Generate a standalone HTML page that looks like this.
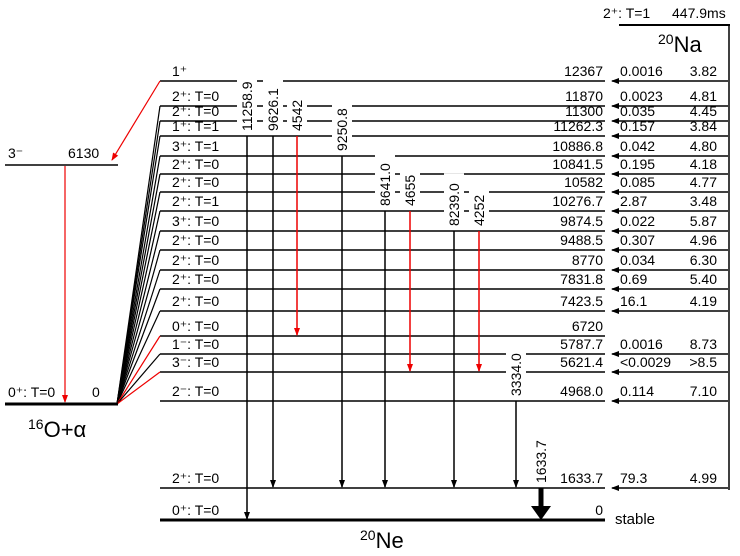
<!DOCTYPE html>
<html><head><meta charset="utf-8"><style>
html,body{margin:0;padding:0;background:#fff}
svg{display:block;font-family:"Liberation Sans",sans-serif}
</style></head><body>
<svg id="c" width="740" height="556" viewBox="0 0 740 556">
<defs>
<marker id="ak" markerWidth="8" markerHeight="8" refX="7" refY="4" orient="auto" markerUnits="userSpaceOnUse"><path d="M0,1 L8,4 L0,7 Z" fill="#000"/></marker>
<marker id="ar" markerWidth="8" markerHeight="8" refX="7" refY="4" orient="auto" markerUnits="userSpaceOnUse"><path d="M0,1 L8,4 L0,7 Z" fill="#e00"/></marker>
</defs>
</svg>
<script>
const energies=["12367","11870","11300","11262.3","10886.8","10841.5","10582","10276.7","9874.5","9488.5","8770","7831.8","7423.5","6720","5787.7","5621.4","4968.0","1633.7","0"];
const spins=["1+","2+: T=0","2+: T=0","1+: T=1","3+: T=1","2+: T=0","2+: T=0","2+: T=1","3+: T=0","2+: T=0","2+: T=0","2+: T=0","2+: T=0","0+: T=0","1-: T=0","3-: T=0","2-: T=0","2+: T=0","0+: T=0"];
const branching=["0.0016","0.0023","0.035","0.157","0.042","0.195","0.085","2.87","0.022","0.307","0.034","0.69","16.1","","0.0016","<0.0029","0.114","79.3",""];
const logft=["3.82","4.81","4.45","3.84","4.80","4.18","4.77","3.48","5.87","4.96","6.30","5.40","4.19","","8.73",">8.5","7.10","4.99",""];
const fanColor=["r","k","k","k","k","k","k","k","k","k","k","k","k","r","k","r","","",""];
// gamma transitions: label, from level index, to level index, color
const gLabels=["11258.9","9626.1","4542","9250.8","8641.0","4655","8239.0","4252","3334.0","1633.7"];
const gFrom=[3,3,3,4,7,7,8,8,16,17];
const gTo=[18,17,13,17,17,15,17,15,17,18];
const gRed=[0,0,1,0,0,1,0,1,0,0];
// layout (pixel positions per level, non-linear)
const Y=[81,106,121,136,156,174,192,211,231,250,270,289,311,336,354,372,401,488,520];
const GX=[247,273,297,342,385,410,454,479,516,541];
const NS="http://www.w3.org/2000/svg";
const svg=document.getElementById('c');
function el(t,a,p){const e=document.createElementNS(NS,t);for(const k in a)e.setAttribute(k,a[k]);(p||svg).appendChild(e);return e;}
function txt(x,y,s,size,anchor,extra){const e=el('text',Object.assign({x:x,y:y,'font-size':size||14,'text-anchor':anchor||'start',fill:'#000'},extra||{}));e.textContent=s;return e;}
function sup(s){return s.replace('+','⁺').replace('-','⁻');}
for(let i=0;i<energies.length;i++){
  const y=Y[i];
  const ln=el('line',{x1:160,y1:y,x2:605,y2:y,stroke:'#000','stroke-width':i==18?3:1.5});
  
  
  const sp=txt(172,y-5,sup(spins[i]),14);
  
  
  const en=txt(603,y-5,energies[i],14,'end');
  
  
  if(branching[i]!==""){
    const ar=el('line',{x1:728,y1:y,x2:612,y2:y,stroke:'#000','stroke-width':1.5,'marker-end':'url(#ak)'});
    
    
    const b=txt(620,y-5,branching[i],14);
    
    
    const l=txt(717,y-5,logft[i],14,'end');
    
    
  }
  if(fanColor[i]!==""){
    const f=el('line',{x1:117,y1:404,x2:160,y2:y,stroke:fanColor[i]=='r'?'#e00':'#000','stroke-width':1.2});
    if(i==0){f.setAttribute('x1',160);f.setAttribute('y1',y);f.setAttribute('x2',112);f.setAttribute('y2',160);f.setAttribute('marker-end','url(#ar)');}
    
    
  }
}
for(let j=0;j<gLabels.length;j++){
  const x=GX[j],y1=Y[gFrom[j]],y2=Y[gTo[j]];
  const thick=j==9;
  const g=el('line',{x1:x,y1:y1,x2:x,y2:thick?y2-12:y2-1,stroke:gRed[j]?'#e00':'#000','stroke-width':thick?5:1.5,'marker-end':thick?'':(gRed[j]?'url(#ar)':'url(#ak)')});
  if(thick){el('path',{d:`M${x-10},${y2-14} L${x+10},${y2-14} L${x},${y2} Z`,fill:'#000'});}
  
  
  const ty=y1-5;
  const w=gLabels[j].length*7.8+6;
  el('rect',{x:x-10,y:ty-w,width:20,height:w,fill:'#fff'});
  const t=txt(x+5,ty,gLabels[j],14,'start',{transform:`rotate(-90 ${x+5} ${ty})`});
  
  
}
el('line',{x1:5,y1:165,x2:118,y2:165,stroke:'#000','stroke-width':1.5});
txt(8,158,'3⁻',14);txt(68,158,'6130',14);
el('line',{x1:65,y1:166,x2:65,y2:402,stroke:'#e00','stroke-width':1.2,'marker-end':'url(#ar)'});
const o=el('line',{x1:5,y1:404,x2:118,y2:404,stroke:'#000','stroke-width':3});


txt(8,397,'0⁺: T=0',14);txt(92,397,'0',14);
const ol=el('text',{x:28,y:437,'font-size':22});ol.innerHTML='<tspan font-size="14" dy="-8">16</tspan><tspan dy="8">O+α</tspan>';


el('line',{x1:619,y1:25,x2:730,y2:25,stroke:'#000','stroke-width':2});
el('line',{x1:729,y1:25,x2:729,y2:490,stroke:'#000','stroke-width':1.5});
txt(603,18,'2⁺: T=1',14);txt(672,18,'447.9ms',14);
const na=el('text',{x:658,y:52,'font-size':22});na.innerHTML='<tspan font-size="14" dy="-8">20</tspan><tspan dy="8">Na</tspan>';


txt(615,524,'stable',15);
const ne=el('text',{x:360,y:548,'font-size':22});ne.innerHTML='<tspan font-size="14" dy="-8">20</tspan><tspan dy="8">Ne</tspan>';


</script>
</body></html>
